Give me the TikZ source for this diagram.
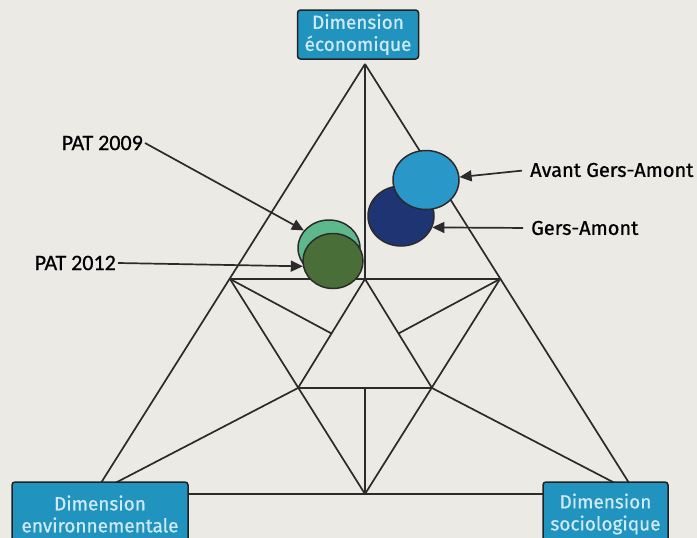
\documentclass[tikz,border=0pt]{standalone}
\usepackage{fontspec}
\setmainfont{Fira Sans}
\newfontfamily\medfont[FakeBold=0.8]{Fira Sans}
\newfontfamily\calfont[FakeBold=0.8]{Carlito}
\usetikzlibrary{arrows.meta,shapes.geometric}
\definecolor{bg}{HTML}{ECEAE5}
\definecolor{ln}{HTML}{2B2B2B}
\definecolor{boxfill}{HTML}{2193BF}
\definecolor{boxtext}{HTML}{CDEAF6}
\definecolor{lblue}{HTML}{2A97C9}
\definecolor{navy}{HTML}{1F3472}
\definecolor{lgreen}{HTML}{5DB98B}
\definecolor{dgreen}{HTML}{4A6E38}
\begin{document}
\begin{tikzpicture}[x=1pt,y=-1pt,
  gline/.style={draw=ln,line width=1.7pt},
  dimbox/.style={draw=ln!80!black,line width=1.5pt,fill=boxfill,rounded corners=3pt,
    text=boxtext,font=\medfont\fontsize{19}{22}\selectfont,align=center,inner sep=0pt},
  blob/.style={ellipse,draw=ln,line width=1.5pt,inner sep=0pt},
  lbl/.style={font=\medfont\fontsize{20}{22}\selectfont,text=black,inner sep=2pt},
  plbl/.style={font=\calfont\fontsize{22}{24}\selectfont,text=black,inner sep=2pt},
  arr/.style={draw=ln,line width=1.7pt,-{Triangle[length=12pt,width=11pt]}}
]
\fill[bg] (0,0) rectangle (697,538);
\useasboundingbox (0,0) rectangle (697,538);
% main triangle
\coordinate (A) at (365,64);
\coordinate (B) at (94,494);
\coordinate (C) at (636,494);
\coordinate (mL) at (230,279);
\coordinate (mR) at (500,279);
\coordinate (mB) at (365,494);
\coordinate (mT) at (365,279);
\coordinate (iL) at (298,388);
\coordinate (iR) at (432,388);
\coordinate (iB) at (365,388);
\coordinate (qL) at (331.5,333.5);
\coordinate (qR) at (398.5,333.5);
\draw[gline] (A) -- (B);
\draw[gline] (A) -- (C);
\draw[gline] (B) -- (C);
\draw[gline] (A) -- (mT);
\draw[gline] (mL) -- (mR);
\draw[gline] (mL) -- (mB);
\draw[gline] (mR) -- (mB);
\draw[gline] (mT) -- (iL);
\draw[gline] (mT) -- (iR);
\draw[gline] (iL) -- (iR);
\draw[gline] (iB) -- (mB);
\draw[gline] (mL) -- (qL);
\draw[gline] (mR) -- (qR);
\draw[gline] (iL) -- (B);
\draw[gline] (iR) -- (C);
% boxes
\node[dimbox,minimum width=121pt,minimum height=49pt] (eco) at (358,34.5) {Dimension\\économique};
\node[dimbox,minimum width=176pt,minimum height=64pt] (env) at (100,514) {Dimension\\environnementale};
\node[dimbox,minimum width=125pt,minimum height=64pt] (soc) at (605.5,514) {Dimension\\sociologique};
% blobs
\node[blob,fill=navy,minimum width=66pt,minimum height=60pt] (eG) at (401,216) {};
\node[blob,fill=lblue,minimum width=66pt,minimum height=59pt] (eA) at (426,180) {};
\node[blob,fill=lgreen,minimum width=62pt,minimum height=56pt] (e09) at (329,248) {};
\node[blob,fill=dgreen,minimum width=60pt,minimum height=55pt] (e12) at (333,261) {};
% labels
\node[lbl,anchor=west] (tA) at (528,170) {Avant Gers-Amont};
\node[lbl,anchor=west] (tG) at (529,228) {Gers-Amont};
\node[plbl,anchor=east] (t09) at (145,143) {PAT 2009};
\node[plbl,anchor=east] (t12) at (118,263) {PAT 2012};
\draw[arr,shorten <=6pt] (tA.west) -- (eA.5);
\draw[arr,shorten <=6pt] (tG.west) -- (eG.-20);
\draw[arr] (t09.east) -- (e09.145);
\draw[arr] (t12.east) -- (e12.190);
\end{tikzpicture}
\end{document}
